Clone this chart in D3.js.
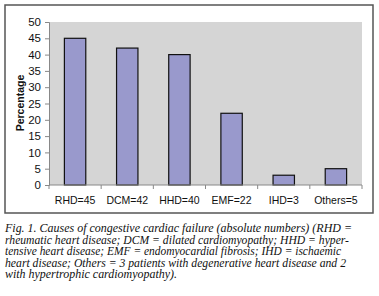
<!DOCTYPE html>
<html>
<head>
<meta charset="utf-8">
<script src="https://cdn.jsdelivr.net/npm/d3@7"></script>
<style>
  body { margin: 0; background: #fff; }
  .sans { font-family: "Liberation Sans", Arial, sans-serif; }
  .caption { font-family: "Liberation Serif", "Times New Roman", serif; font-style: italic; }
</style>
</head>
<body>
<div id="chart"></div>
<script>
// Data
const categories = ["RHD=45", "DCM=42", "HHD=40", "EMF=22", "IHD=3", "Others=5"];
const values = [45, 42, 40, 22, 3, 5];
const yTicks = [0, 5, 10, 15, 20, 25, 30, 35, 40, 45, 50];
const captionLines = [
    "Fig. 1. Causes of congestive cardiac failure (absolute numbers) (RHD =",
    "rheumatic heart disease; DCM = dilated cardiomyopathy; HHD = hyper-",
    "tensive heart disease; EMF = endomyocardial fibrosis; IHD = ischaemic",
    "heart disease; Others = 3 patients with degenerative heart disease and 2",
    "with hypertrophic cardiomyopathy)."
];
const captionWidths = [347, 344, 336, 341, 172];

const W = 379, H = 296;
const margin = {top: 22, left: 49, right: 17, bottom: 111};
const width = W - margin.left - margin.right,
    height = H - margin.top - margin.bottom;

const svg = d3.select("#chart")
    .append("svg")
    .attr("width", W)
    .attr("height", H);

// outer frame
svg.append("rect")
    .attr("x", 5).attr("y", 5)
    .attr("width", 368).attr("height", 208)
    .attr("fill", "none")
    .attr("stroke", "#555")
    .attr("stroke-width", 1.5);

const chart = svg.append("g")
    .attr("transform", `translate(${margin.left},${margin.top})`);

const x = d3.scaleBand().domain(categories).range([0, width]).paddingInner(0.59).paddingOuter(0.295);
const xb = d3.scaleBand().domain(categories).range([0, width]);
const y = d3.scaleLinear().domain([0, 50]).range([height, 0]);

// plot background
chart.append("rect")
    .attr("width", width)
    .attr("height", height)
    .attr("fill", "#d5d5d5");

// bars
chart.selectAll(".bar")
    .data(values)
    .join("rect")
    .attr("class", "bar")
    .attr("x", (d, i) => x(categories[i]))
    .attr("width", x.bandwidth())
    .attr("y", d => y(d))
    .attr("height", d => height - y(d))
    .attr("fill", "#9999cc")
    .attr("stroke", "#111")
    .attr("stroke-width", 1.2);

// y axis
const yAxis = chart.append("g")
    .call(d3.axisLeft(y).tickValues(yTicks).tickSize(4).tickPadding(4));
yAxis.select(".domain").attr("stroke", "#888");
yAxis.selectAll(".tick line").attr("stroke", "#888");
yAxis.selectAll("text").attr("class", "sans").attr("font-size", 11.5).attr("fill", "#111")
    .attr("font-family", null);

// x axis: ticks at band boundaries, labels at band centres
const xAxisG = chart.append("g").attr("transform", `translate(0,${height})`);
xAxisG.append("line")
    .attr("x1", 0).attr("x2", width)
    .attr("stroke", "#888");
xAxisG.selectAll(".xtick")
    .data(categories.concat(["end"]))
    .join("line")
    .attr("class", "xtick")
    .attr("x1", (d, i) => i * xb.step())
    .attr("x2", (d, i) => i * xb.step())
    .attr("y1", 0).attr("y2", 4)
    .attr("stroke", "#888");
xAxisG.selectAll(".xlabel")
    .data(categories)
    .join("text")
    .attr("class", "xlabel sans")
    .attr("x", d => xb(d) + xb.bandwidth() / 2)
    .attr("y", 18.5)
    .attr("text-anchor", "middle")
    .attr("font-size", 10.5)
    .attr("fill", "#111")
    .text(d => d);

// y axis label
svg.append("text")
    .attr("class", "sans")
    .attr("transform", "rotate(-90)")
    .attr("x", -103)
    .attr("y", 24)
    .attr("text-anchor", "middle")
    .attr("font-size", 10.5)
    .attr("font-weight", "bold")
    .attr("fill", "#111")
    .text("Percentage");

// caption
svg.selectAll(".caption")
    .data(captionLines)
    .join("text")
    .attr("class", "caption")
    .attr("x", 5)
    .attr("y", (d, i) => 232 + i * 11.6)
    .attr("font-size", 11.5)
    .attr("textLength", (d, i) => captionWidths[i])
    .attr("lengthAdjust", "spacingAndGlyphs")
    .attr("fill", "#111")
    .text(d => d);
</script>
</body>
</html>
